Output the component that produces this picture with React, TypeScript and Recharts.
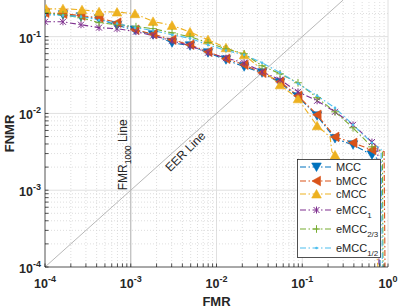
import React from 'react';
import { LineChart, Line, XAxis, YAxis, ReferenceLine, ReferenceDot, Legend } from 'recharts';

// [FMR, FNMR, marker shown (1/0)]
const mccPoints: [number, number, number][] = [
  [1.0e-4, 0.199, 1], [1.62e-4, 0.193, 1], [2.63e-4, 0.182, 1], [4.27e-4, 0.171, 1],
  [6.92e-4, 0.14, 1], [1.12e-3, 0.122, 1], [1.82e-3, 0.106, 1], [3.03e-3, 0.0834, 1],
  [4.91e-3, 0.0761, 1], [7.96e-3, 0.0617, 1], [0.0129, 0.05, 1], [0.021, 0.0405, 1],
  [0.034, 0.0338, 1], [0.0551, 0.0251, 1], [0.0892, 0.0165, 1], [0.149, 0.0093, 1],
  [0.241, 0.0047, 1], [0.391, 0.0039, 1], [0.65, 0.00288, 1], [0.78, 0.0025, 0],
  [0.807, 1e-4, 0],
];

const bmccPoints: [number, number, number][] = [
  [1.0e-4, 0.205, 1], [1.62e-4, 0.199, 1], [2.63e-4, 0.188, 1], [4.27e-4, 0.176, 1],
  [6.92e-4, 0.152, 1], [1.12e-3, 0.123, 1], [1.82e-3, 0.108, 1], [3.03e-3, 0.0912, 1],
  [4.91e-3, 0.0784, 1], [7.96e-3, 0.0635, 1], [0.0129, 0.0515, 1], [0.021, 0.0431, 1],
  [0.034, 0.0338, 1], [0.0551, 0.0258, 1], [0.0892, 0.017, 1], [0.149, 0.0096, 1],
  [0.241, 0.00495, 1], [0.391, 0.00414, 1], [0.65, 0.00335, 1], [0.9, 0.0032, 0],
  [0.923, 1e-4, 0],
];

const cmccPoints: [number, number, number][] = [
  [1.03e-4, 0.229, 1], [1.62e-4, 0.231, 1], [2.7e-4, 0.224, 1], [4.27e-4, 0.211, 1],
  [6.92e-4, 0.209, 1], [1.12e-3, 0.199, 1], [1.82e-3, 0.158, 1], [3.03e-3, 0.14, 1],
  [4.91e-3, 0.115, 1], [7.96e-3, 0.0912, 1], [0.0129, 0.0716, 1], [0.021, 0.0581, 1],
  [0.0551, 0.0236, 1], [0.0892, 0.0155, 1], [0.149, 0.0069, 1], [0.211, 0.00495, 0],
  [0.222, 0.00316, 0], [0.241, 0.00288, 1], [0.705, 2.6e-4, 0], [0.764, 1e-4, 0],
];

const emcc1Points: [number, number, number][] = [
  [1.0e-4, 0.156, 1], [1.62e-4, 0.156, 1], [2.63e-4, 0.143, 1], [4.27e-4, 0.131, 1],
  [6.92e-4, 0.127, 1], [1.15e-3, 0.116, 1], [1.82e-3, 0.103, 1], [3.03e-3, 0.0885, 1],
  [4.91e-3, 0.0761, 1], [7.96e-3, 0.0617, 1], [0.0129, 0.0525, 1], [0.021, 0.0457, 1],
  [0.034, 0.0349, 1], [0.0551, 0.0274, 1], [0.0892, 0.0191, 1], [0.149, 0.0146, 1],
  [0.241, 0.0105, 1], [0.391, 0.0071, 1], [0.65, 0.00424, 1], [0.76, 0.0037, 0],
  [0.785, 1e-4, 0],
];

const emcc23Points: [number, number, number][] = [
  [1.0e-4, 0.205, 1], [1.62e-4, 0.193, 1], [2.63e-4, 0.176, 1], [4.27e-4, 0.152, 1],
  [6.92e-4, 0.143, 1], [1.15e-3, 0.135, 1], [1.82e-3, 0.127, 1], [3.03e-3, 0.112, 1],
  [4.91e-3, 0.0998, 1], [7.96e-3, 0.0834, 1], [0.0129, 0.0695, 1], [0.021, 0.0598, 1],
  [0.034, 0.0418, 1], [0.0551, 0.0328, 1], [0.0892, 0.0251, 1], [0.149, 0.016, 1],
  [0.241, 0.0105, 1], [0.391, 0.0065, 1], [0.65, 0.00367, 1], [0.86, 0.0032, 0],
  [0.875, 1e-4, 0],
];

const emcc12Points: [number, number, number][] = [
  [1.0e-4, 0.193, 1], [1.62e-4, 0.188, 1], [2.63e-4, 0.182, 1], [4.27e-4, 0.165, 1],
  [6.92e-4, 0.148, 1], [1.12e-3, 0.131, 1], [1.82e-3, 0.12, 1], [3.03e-3, 0.106, 1],
  [4.91e-3, 0.095, 1], [7.96e-3, 0.0784, 1], [0.0129, 0.066, 1], [0.021, 0.0581, 1],
  [0.034, 0.0457, 1], [0.0551, 0.034, 1], [0.0892, 0.0245, 1], [0.149, 0.017, 1],
  [0.241, 0.0118, 1], [0.391, 0.0071, 1], [0.65, 0.00414, 1], [0.83, 0.0034, 0],
  [0.86, 1e-4, 0],
];

const X_DOMAIN: [number, number] = [1e-4, 1];
const Y_DOMAIN: [number, number] = [1e-4, 0.3];
const X_DECADES = [-4, -3, -2, -1];
const Y_DECADES = [-4, -3, -2, -1];

const SERIES = [
  { key: 'mcc', name: 'MCC', sub: '', color: '#0072BD', marker: 'down', points: mccPoints },
  { key: 'bmcc', name: 'bMCC', sub: '', color: '#D95319', marker: 'left', points: bmccPoints },
  { key: 'cmcc', name: 'cMCC', sub: '', color: '#EDB120', marker: 'up', points: cmccPoints },
  { key: 'emcc1', name: 'eMCC', sub: '1', color: '#7E2F8E', marker: 'star', points: emcc1Points },
  { key: 'emcc23', name: 'eMCC', sub: '2/3', color: '#77AC30', marker: 'plus', points: emcc23Points },
  { key: 'emcc12', name: 'eMCC', sub: '1/2', color: '#4DBEEE', marker: 'dot', points: emcc12Points },
];

const FONT = '"Liberation Sans", Arial, Helvetica, sans-serif';
const AXIS = '#262626';
const DASH = '6 2.5 1.5 2.5';

const logTicks = (decades: number[], max: number) => {
  const out: number[] = [];
  decades.forEach((d) => {
    for (let k = 1; k <= 9; k++) {
      const v = k * Math.pow(10, d);
      if (v < max * 0.999) out.push(v);
    }
  });
  if (max === 1) out.push(1);
  return out;
};

const xTickValues = logTicks(X_DECADES, X_DOMAIN[1]);
const yTickValues = logTicks(Y_DECADES, Y_DOMAIN[1]);

const isDecade = (v: number) => Math.abs(Math.log10(v) - Math.round(Math.log10(v))) < 1e-6;

const Marker = ({ type, cx, cy, color }: any) => {
  switch (type) {
    case 'down':
      return <polygon points={`${cx - 4.8},${cy - 4} ${cx + 4.8},${cy - 4} ${cx},${cy + 4.5}`} fill={color} stroke={color} strokeWidth={0.6} />;
    case 'left':
      return <polygon points={`${cx - 4.5},${cy} ${cx + 4},${cy - 4.8} ${cx + 4},${cy + 4.8}`} fill={color} stroke={color} strokeWidth={0.6} />;
    case 'up':
      return <polygon points={`${cx - 4.8},${cy + 4} ${cx + 4.8},${cy + 4} ${cx},${cy - 4.5}`} fill={color} stroke={color} strokeWidth={0.6} />;
    case 'star':
      return (
        <g stroke={color} strokeWidth={1}>
          <line x1={cx - 3} y1={cy - 3} x2={cx + 3} y2={cy + 3} />
          <line x1={cx - 3} y1={cy + 3} x2={cx + 3} y2={cy - 3} />
          <line x1={cx} y1={cy - 3.5} x2={cx} y2={cy + 3.5} />
        </g>
      );
    case 'plus':
      return (
        <g stroke={color} strokeWidth={1}>
          <line x1={cx - 3.8} y1={cy} x2={cx + 3.8} y2={cy} />
          <line x1={cx} y1={cy - 3.8} x2={cx} y2={cy + 3.8} />
        </g>
      );
    default:
      return <circle cx={cx} cy={cy} r={1.3} fill={color} />;
  }
};

const XTick = (props: any) => {
  const { x, y, payload } = props;
  const v = payload.value;
  const major = isDecade(v);
  return (
    <g>
      <line x1={x} y1={y} x2={x} y2={y - 3.5} stroke={AXIS} strokeWidth={0.8} />
      {major && (
        <text x={x} y={y + 21} textAnchor="middle" fontFamily={FONT} fontSize={12.5} fontWeight="bold" fill={AXIS}>
          10<tspan dy={-6} fontSize={9}>{Math.round(Math.log10(v))}</tspan>
        </text>
      )}
    </g>
  );
};

const YTick = (props: any) => {
  const { x, y, payload } = props;
  const v = payload.value;
  const major = isDecade(v);
  return (
    <g>
      <line x1={x} y1={y} x2={x + 3.5} y2={y} stroke={AXIS} strokeWidth={0.8} />
      {major && (
        <text x={x - 4} y={y + 6} textAnchor="end" fontFamily={FONT} fontSize={12.5} fontWeight="bold" fill={AXIS}>
          10<tspan dy={-6} fontSize={9}>{Math.round(Math.log10(v))}</tspan>
        </text>
      )}
    </g>
  );
};

const LEGEND_ROWS = [8, 22, 35, 51, 70, 89];

const LegendBox = () => (
  <svg width={84} height={99} style={{ display: 'block' }}>
    <rect x={0.5} y={0.5} width={83} height={98} fill="#fff" stroke={AXIS} strokeWidth={0.8} />
    {SERIES.map((s, i) => {
      const cy = LEGEND_ROWS[i];
      return (
        <g key={s.key}>
          <line x1={3} y1={cy} x2={36} y2={cy} stroke={s.color} strokeWidth={1.1} strokeDasharray={DASH} />
          <Marker type={s.marker} cx={19.5} cy={cy} color={s.color} />
          <text x={39} y={cy + 4} fontFamily={FONT} fontSize={11} fill={AXIS}>
            {s.name}
            {s.sub && <tspan dy={4} fontSize={8}>{s.sub}</tspan>}
          </text>
        </g>
      );
    })}
  </svg>
);

export default function App() {
  return (
    <div style={{ position: 'absolute', left: 0, top: 0, width: 399, height: 308, background: '#fff' }}>
      <LineChart width={399} height={308} margin={{ top: 0, right: 11, bottom: 0, left: 0 }}>
        <XAxis
          dataKey="fmr"
          type="number"
          scale="log"
          domain={X_DOMAIN}
          allowDataOverflow
          ticks={xTickValues}
          interval={0}
          height={41}
          tickSize={0}
          tickMargin={0}
          tick={<XTick />}
          axisLine={{ stroke: AXIS, strokeWidth: 0.8 }}
          label={{
            content: (p: any) => (
              <text x={p.viewBox.x + p.viewBox.width / 2} y={p.viewBox.y + 39} textAnchor="middle" fontFamily={FONT} fontSize={13} fontWeight="bold" fill={AXIS}>
                FMR
              </text>
            ),
          }}
        />
        <YAxis
          type="number"
          scale="log"
          domain={Y_DOMAIN}
          allowDataOverflow
          ticks={yTickValues}
          interval={0}
          width={45}
          tickSize={0}
          tickMargin={0}
          tick={<YTick />}
          axisLine={{ stroke: AXIS, strokeWidth: 0.8 }}
          label={{
            content: (p: any) => (
              <text transform={`translate(${p.viewBox.x + 14}, ${p.viewBox.y + p.viewBox.height / 2}) rotate(-90)`} textAnchor="middle" fontFamily={FONT} fontSize={13} fontWeight="bold" fill={AXIS}>
                FNMR
              </text>
            ),
          }}
        />
        {xTickValues.filter((v) => v > X_DOMAIN[0]).map((v) => (
          <ReferenceLine
            key={`gx-${v}`}
            x={v}
            stroke={isDecade(v) ? '#e0e0e0' : '#d6d6d6'}
            strokeWidth={isDecade(v) ? 1 : 0.8}
            strokeDasharray={isDecade(v) ? undefined : '1 2'}
          />
        ))}
        {yTickValues.filter((v) => v > Y_DOMAIN[0]).map((v) => (
          <ReferenceLine
            key={`gy-${v}`}
            y={v}
            stroke={isDecade(v) ? '#e0e0e0' : '#d6d6d6'}
            strokeWidth={isDecade(v) ? 1 : 0.8}
            strokeDasharray={isDecade(v) ? undefined : '1 2'}
          />
        ))}
        <ReferenceLine
          x={1e-3}
          stroke="#b8b8b8"
          strokeWidth={1}
          label={{
            content: (p: any) => (
              <text
                transform={`translate(${p.viewBox.x - 4}, ${p.viewBox.y + p.viewBox.height * 0.58}) rotate(-90)`}
                textAnchor="middle"
                fontFamily={FONT}
                fontSize={12}
                fill={AXIS}
              >
                FMR<tspan dy={4} fontSize={8.5}>1000</tspan>
                <tspan dy={-4}> Line</tspan>
              </text>
            ),
          }}
        />
        <ReferenceLine
          segment={[{ x: Y_DOMAIN[0], y: Y_DOMAIN[0] }, { x: Y_DOMAIN[1], y: Y_DOMAIN[1] }]}
          stroke="#b8b8b8"
          strokeWidth={1}
        />
        <ReferenceDot
          x={0.00375}
          y={0.00375}
          r={0}
          fill="none"
          stroke="none"
          label={{
            content: (p: any) => {
              const cx = p.viewBox.x + (p.viewBox.width || 0) / 2 + 6;
              const cy = p.viewBox.y + (p.viewBox.height || 0) / 2 + 6;
              return (
                <text transform={`translate(${cx}, ${cy}) rotate(-45)`} textAnchor="middle" dominantBaseline="middle" fontFamily={FONT} fontSize={12} fill={AXIS}>
                  EER Line
                </text>
              );
            },
          }}
        />
        {SERIES.map((s) => (
          <Line
            key={s.key}
            data={s.points.map(([fmr, fnmr, m]) => ({ fmr, fnmr, m: m === 1 }))}
            dataKey="fnmr"
            type="linear"
            stroke={s.color}
            strokeWidth={1.1}
            strokeDasharray={DASH}
            activeDot={false}
            legendType="none"
            isAnimationActive={false}
            dot={(p: any) => {
              if (!p.payload || !p.payload.m || p.cx == null) return <g key={`${s.key}-${p.index}`} />;
              return <Marker key={`${s.key}-${p.index}`} type={s.marker} cx={p.cx} cy={p.cy} color={s.color} />;
            }}
          />
        ))}
        <Legend
          verticalAlign="middle"
          align="center"
          content={() => <LegendBox />}
          wrapperStyle={{ position: 'absolute', left: 297, top: 159, width: 84, height: 99 }}
        />
      </LineChart>
    </div>
  );
}
